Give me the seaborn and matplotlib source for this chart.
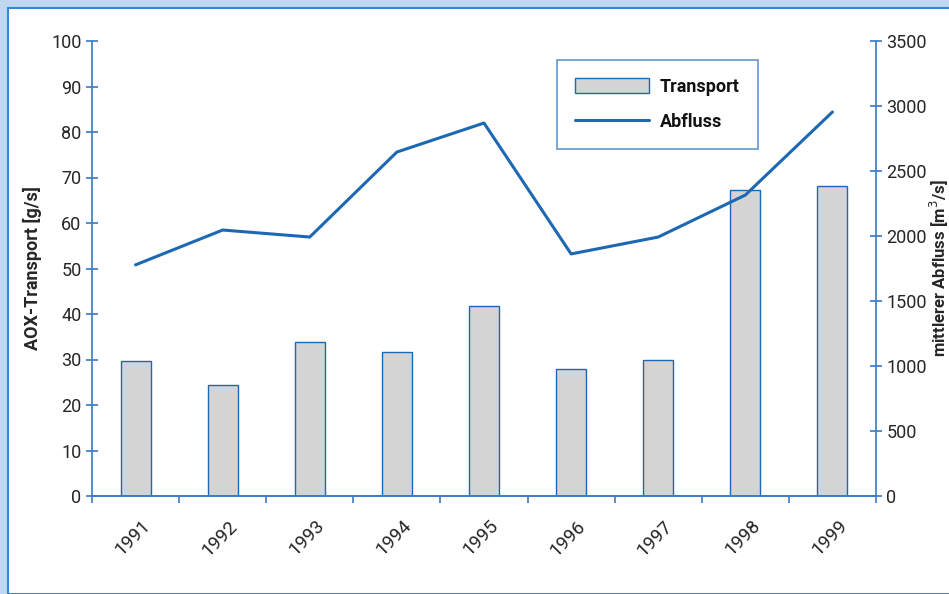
import numpy as np
import seaborn as sns
import matplotlib.pyplot as plt
import matplotlib.transforms as mtransforms
from matplotlib.patches import Rectangle, Patch
from matplotlib.lines import Line2D

# Daten
jahre = ['1991', '1992', '1993', '1994', '1995', '1996', '1997', '1998', '1999']
transport = [29.7, 24.4, 33.8, 31.7, 41.8, 27.9, 29.9, 67.2, 68.1]   # AOX-Transport [g/s]
abfluss = [1778, 2046, 1992, 2646, 2869, 1862, 1992, 2315, 2954]     # mittlerer Abfluss [m3/s]

blau = '#1c68b2'
achse = '#3a7cc4'
grau = '#d4d4d4'

sns.set_style('white')
plt.rcParams['font.family'] = ['Roboto', 'DejaVu Sans']
plt.rcParams['text.color'] = '#111111'

fig = plt.figure(figsize=(9.49, 5.94), dpi=100)
fig.patch.set_facecolor('#bfd7ef')
W, H = 949, 594
# weisser Innenbereich mit blauer Kante oben/links
fig.add_artist(Rectangle((8 / W, 0), 1.0, 1 - 8 / H, transform=fig.transFigure,
                         facecolor='white', edgecolor='#3b86d2', linewidth=1.5, zorder=-5))

ax = fig.add_axes([92 / W, 1 - 496 / H, 784 / W, 455 / H])
ax.patch.set_alpha(0)

sns.barplot(x=jahre, y=transport, ax=ax, color=grau, saturation=1,
            edgecolor=blau, linewidth=1, width=0.345, errorbar=None)

ax2 = ax.twinx()
sns.lineplot(x=np.arange(len(jahre)), y=abfluss, ax=ax2, color=blau, linewidth=2.2)

ax.set_xlim(-0.5, len(jahre) - 0.5)
ax.set_ylim(0, 100)
ax2.set_ylim(0, 3500)
ax.set_yticks(np.arange(0, 101, 10))
ax2.set_yticks(np.arange(0, 3501, 500))

for a in (ax, ax2):
    for s in a.spines.values():
        s.set_color(achse)
        s.set_linewidth(1.2)
    a.spines['top'].set_visible(False)
ax2.spines['left'].set_visible(False)
ax.spines['right'].set_visible(False)

ax.tick_params(axis='y', direction='inout', length=9, width=1.2, color=achse,
               labelsize=13, pad=3, left=True)
ax2.tick_params(axis='y', direction='inout', length=9, width=1.2, color=achse,
                labelsize=13, pad=3, right=True)

# x-Achse: Striche zwischen den Jahren, Beschriftung schraeg
ax.set_xticks(range(len(jahre)))
ax.set_xticklabels(jahre, rotation=45, ha='right', rotation_mode='anchor', fontsize=13.5)
ax.tick_params(axis='x', length=0, pad=15)
ax.set_xticks(np.arange(-0.5, len(jahre), 1), minor=True)
ax.tick_params(axis='x', which='minor', direction='out', length=5, width=1.2,
               color=achse, bottom=True)
off = mtransforms.ScaledTranslation(4 / 72, 0, fig.dpi_scale_trans)
for lab in ax.get_xticklabels():
    lab.set_transform(lab.get_transform() + off)

ax.set_xlabel('')
ax.set_ylabel('AOX-Transport [g/s]', fontsize=13, fontweight='bold')
ax.yaxis.set_label_coords(-0.064, 0.5)
ax2.set_ylabel('mittlerer Abfluss [m$^3$/s]', fontsize=12, fontweight='bold')
ax2.yaxis.set_label_coords(1.066, 0.5)

handles = [Patch(facecolor=grau, edgecolor=blau, linewidth=1),
           Line2D([0], [0], color=blau, linewidth=2.2)]
leg = ax2.legend(handles, ['Transport', 'Abfluss'], loc='upper left',
                 bbox_to_anchor=(0.593, 0.958), frameon=True, fancybox=False,
                 prop={'weight': 'bold', 'size': 13}, handlelength=4.1,
                 handleheight=0.9, labelspacing=0.95, borderpad=1.0,
                 handletextpad=0.6, borderaxespad=0)
leg.get_frame().set_edgecolor(achse)
leg.get_frame().set_linewidth(1.2)

fig.savefig('out.png', dpi=100)
